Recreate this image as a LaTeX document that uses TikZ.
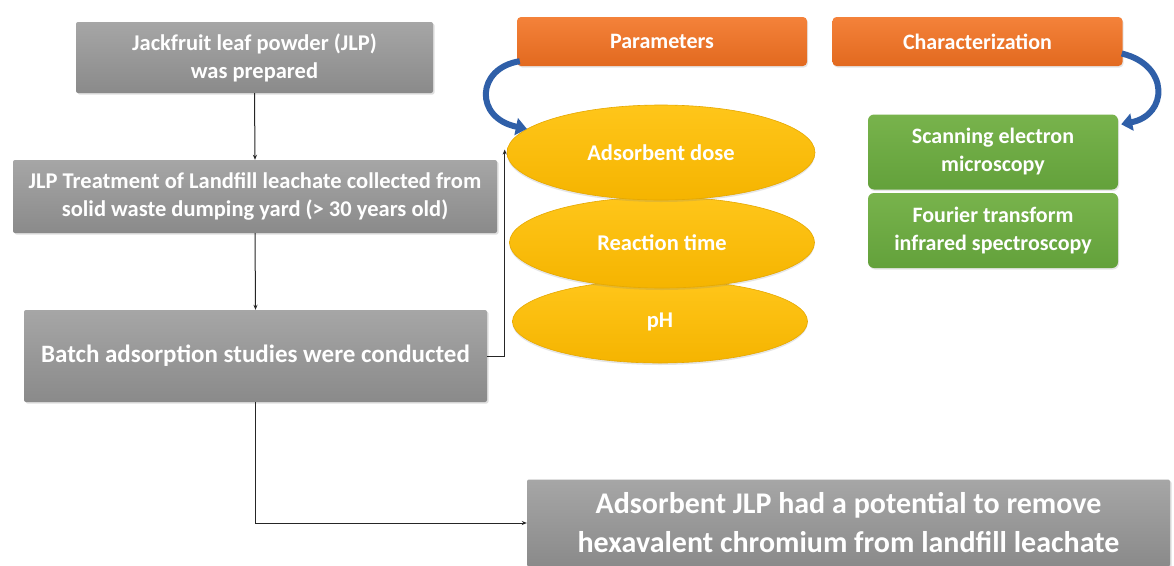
\documentclass[tikz,border=0pt]{standalone}
\usepackage{fontspec}
\setmainfont{Carlito}
\usetikzlibrary{arrows.meta,shadows,shapes.geometric,calc}
\definecolor{gtop}{HTML}{A6A6A6}
\definecolor{gbot}{HTML}{8A8A8A}
\definecolor{orgtop}{HTML}{F4823A}
\definecolor{orgbot}{HTML}{E2691F}
\definecolor{yeltop}{HTML}{FFC61A}
\definecolor{yelbot}{HTML}{F5B400}
\definecolor{yeledge}{HTML}{E6A800}
\definecolor{grntop}{HTML}{78B34C}
\definecolor{grnbot}{HTML}{63A13B}
\definecolor{blu}{HTML}{2F5FA8}
\tikzset{
  graybox/.style={rectangle, rounded corners=2pt, top color=gtop, bottom color=gbot, draw=none,
    text=white, align=center, font=\bfseries\fontsize{22.5}{28}\selectfont,
    drop shadow={opacity=0.25, shadow xshift=1.5pt, shadow yshift=-1.5pt}},
  orgbox/.style={rectangle, rounded corners=4pt, top color=orgtop, bottom color=orgbot, draw=none,
    text=white, font=\bfseries\fontsize{22}{26}\selectfont, minimum width=290pt, minimum height=49pt,
    drop shadow={opacity=0.2, shadow xshift=1pt, shadow yshift=-1.5pt}},
  grnbox/.style={rectangle, rounded corners=6pt, top color=grntop, bottom color=grnbot, draw=none,
    text=white, align=center, font=\bfseries\fontsize{22}{28}\selectfont, minimum width=250pt,
    drop shadow={opacity=0.2, shadow xshift=1pt, shadow yshift=-1.5pt}},
  yelell/.style={ellipse, top color=yeltop, bottom color=yelbot, draw=yeledge, line width=0.6pt,
    text=white, font=\bfseries\fontsize{22.5}{26}\selectfont, inner sep=0pt,
    drop shadow={opacity=0.2, shadow xshift=0pt, shadow yshift=-2pt}},
  conn/.style={draw=black!85, line width=1pt, -{Stealth[length=5pt,width=4pt]}},
  bluearr/.style={draw=blu, line width=6pt, -{Triangle[length=11pt,width=17pt]}}
}
\begin{document}
\begin{tikzpicture}[x=1pt,y=-1pt]
\useasboundingbox (0,0) rectangle (1174,565);
\fill[white] (0,0) rectangle (1174,565);
% left column
\node[graybox, minimum width=357pt, minimum height=71pt] (b1) at (254.5,57.5) {Jackfruit leaf powder (JLP)\\was prepared};
\node[graybox, minimum width=484pt, minimum height=73pt] (b2) at (255,196.5) {JLP Treatment of Landfill leachate collected from\\solid waste dumping yard (> 30 years old)};
\node[graybox, minimum width=463pt, minimum height=92pt, font=\bfseries\fontsize{25}{30}\selectfont] (b3) at (255.5,356) {Batch adsorption studies were conducted};
\node[graybox, minimum width=643pt, minimum height=87pt, font=\bfseries\fontsize{30}{39}\selectfont] (fin) at (848.5,523) {Adsorbent JLP had a potential to remove\\hexavalent chromium from landfill leachate};
% headers
\node[orgbox] (par) at (662,41.5) {Parameters};
\node[orgbox] (cha) at (977.5,41.5) {Characterization};
% ellipses
\node[yelell, minimum width=295pt, minimum height=83pt] (e3) at (660,321.5) {pH};
\node[yelell, minimum width=305pt, minimum height=91pt] (e2) at (662,242.5) {Reaction time};
\node[yelell, minimum width=308pt, minimum height=95pt] (e1) at (661,152.5) {Adsorbent dose};
% green boxes
\node[grnbox, minimum height=75pt] (sem) at (993,152) {Scanning electron\\microscopy};
\node[grnbox, minimum height=75pt] (ftir) at (993,230.5) {Fourier transform\\infrared spectroscopy};
% connectors
\draw[conn] (b1.south) -- (b2.north);
\draw[conn] (b2.south) -- (b3.north);
\draw[conn] (b3.east) -| ([xshift=-2pt,yshift=3pt]e1.west);
\draw[conn] (b3.south) |- (fin.west);
% blue curved arrows
\draw[bluearr] ([xshift=3pt,yshift=5pt]par.south west) .. controls (476,68) and (474,118) .. (e1.170);
\draw[bluearr] ([xshift=-1pt,yshift=-12pt]cha.east) .. controls (1170,65) and (1168,115) .. ([xshift=3pt,yshift=-10pt]sem.north east);
\end{tikzpicture}
\end{document}
